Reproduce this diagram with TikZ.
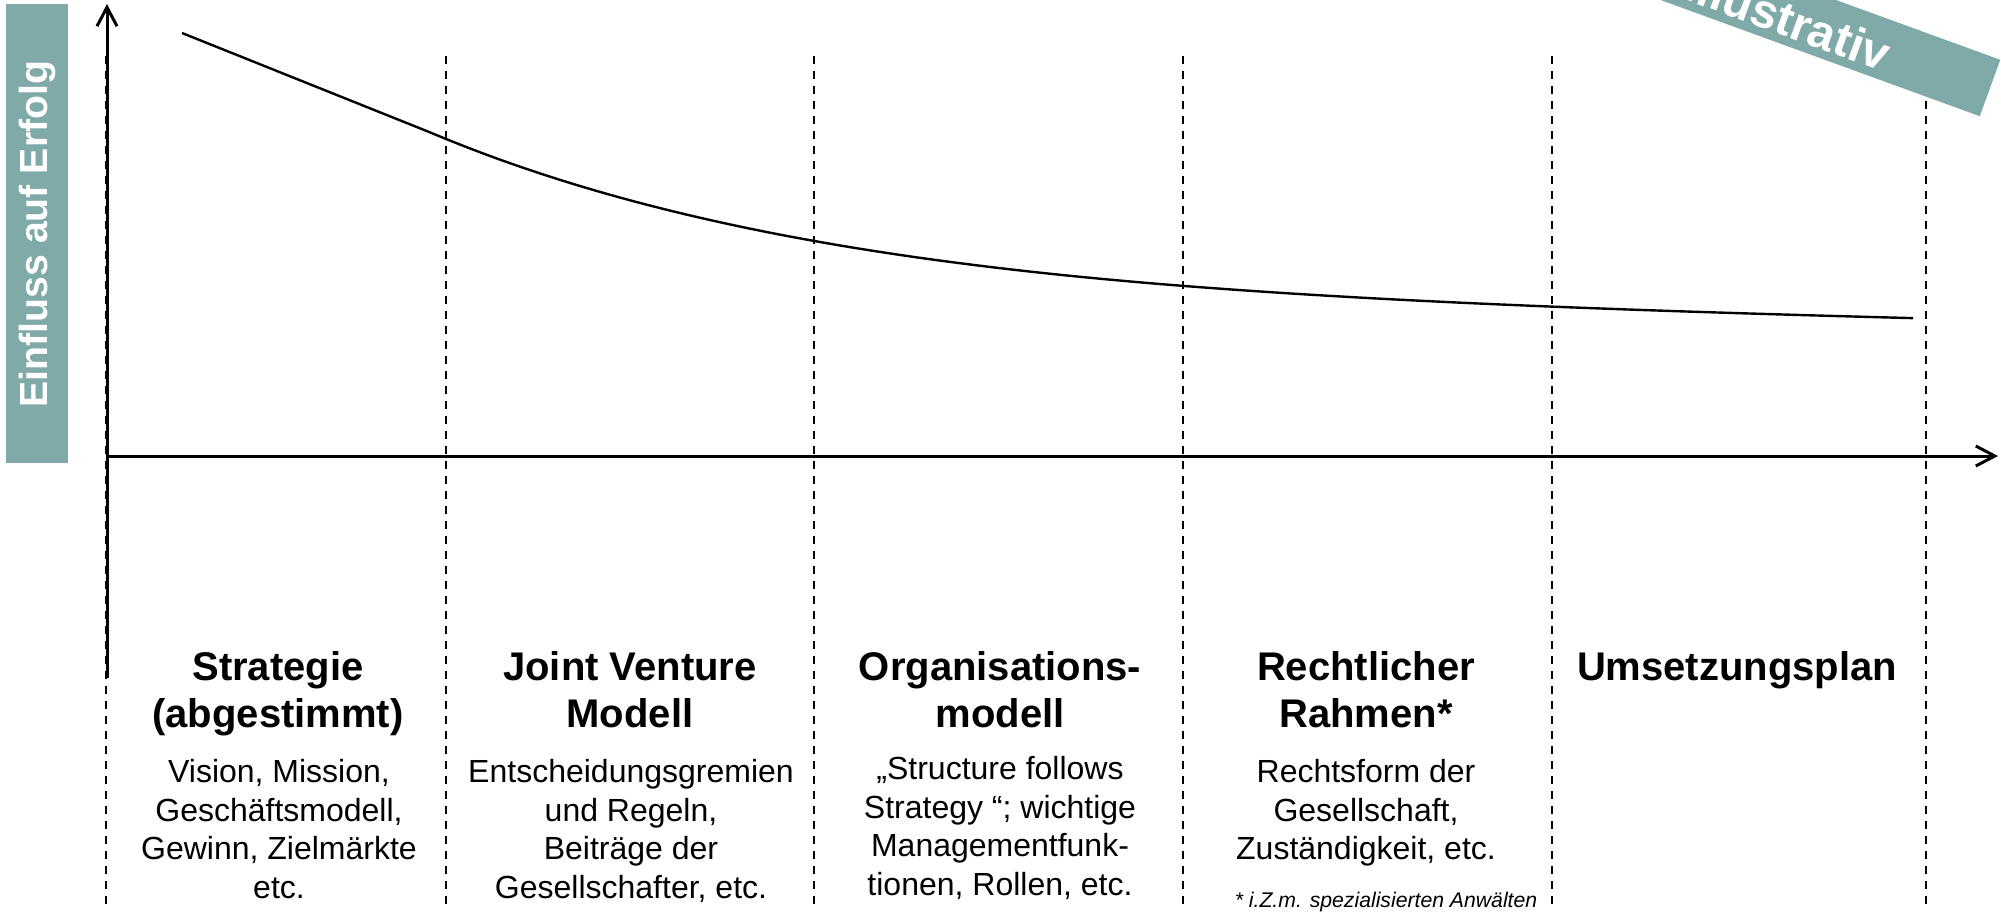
\documentclass[tikz,border=0pt]{standalone}
\usepackage{fontspec}
\setmainfont{Liberation Sans}
\usetikzlibrary{arrows.meta}
\definecolor{tealbox}{RGB}{127,170,168}
\begin{document}
\begin{tikzpicture}[x=0.5pt,y=-0.5pt,
  axisarrow/.style={line width=1.5pt, -{Straight Barb[length=9.5pt,width=10pt]}},
  divider/.style={line width=0.9pt, dash pattern=on 4pt off 3.5pt},
  curveline/.style={line width=1.2pt, line join=round},
  title/.style={font=\fontsize{20}{23.5}\selectfont\bfseries, align=center, anchor=north, inner sep=0pt},
  body/.style={font=\fontsize{16}{19.25}\selectfont, align=center, anchor=north, inner sep=0pt},
]
\useasboundingbox (0,0) rectangle (2001,911);
\clip (0,0) rectangle (2001,911);

% dashed column dividers
\foreach \x [count=\i] in {106,446,814,1183,1552,1926} {
  \coordinate (dt\i) at (\x,56);
  \coordinate (db\i) at (\x,908);
  \draw[divider] (dt\i) -- (db\i);
}

% axes
\coordinate (O) at (107,456);
\coordinate (ytop) at (107,4);
\coordinate (ybot) at (107,678);
\coordinate (xend) at (1998,456);
\draw[axisarrow] (ybot) -- (ytop);
\draw[axisarrow] (O) -- (xend);

% curve
\draw[curveline] (182,33) -- plot[domain=428:1913, samples=80]
  (\x, {321-182*exp(-(\x-446)/448) + 0.075*(max(0,\x-1183)/100)^2});

% y label box
\fill[tealbox] (6,4) rectangle (68,463);
\node[rotate=90, text=white, font=\fontsize{19.6}{23}\selectfont\bfseries, inner sep=0pt] (ylabel) at (37,234) {Einfluss auf Erfolg};

% banner
\begin{scope}[shift={(1990,88)}, rotate=-20]
  \fill[tealbox] (-700,-30) rectangle (0,30);
\end{scope}
\node[rotate=-20, anchor=base, text=white, font=\fontsize{24}{28}\selectfont\bfseries, inner sep=0pt] (banner) at (1782.4,35.3) {Illustrativ};

% titles
\node[title] (t1) at (278,651) {Strategie\\(abgestimmt)};
\node[title] (t2) at (630,651) {Joint Venture\\Modell};
\node[title] (t3) at (1000,651) {Organisations-\\modell};
\node[title] (t4) at (1366,651) {Rechtlicher\\Rahmen*};
\node[title] (t5) at (1737,651) {Umsetzungsplan};

% bodies
\node[body] (b1) at (279,759) {Vision, Mission,\\Geschäftsmodell,\\Gewinn, Zielmärkte\\etc.};
\node[body] (b2) at (631,759) {Entscheidungsgremien\\und Regeln,\\Beiträge der\\Gesellschafter, etc.};
\node[body] (b3) at (1000,756) {„Structure follows\\Strategy “; wichtige\\Managementfunk-\\tionen, Rollen, etc.};
\node[body] (b4) at (1366,759) {Rechtsform der\\Gesellschaft,\\Zuständigkeit, etc.};
\node[font=\fontsize{10.6}{12}\selectfont\itshape, anchor=base, inner sep=0pt] (fn) at (1386,907) {* i.Z.m. spezialisierten Anwälten};
\end{tikzpicture}
\end{document}
